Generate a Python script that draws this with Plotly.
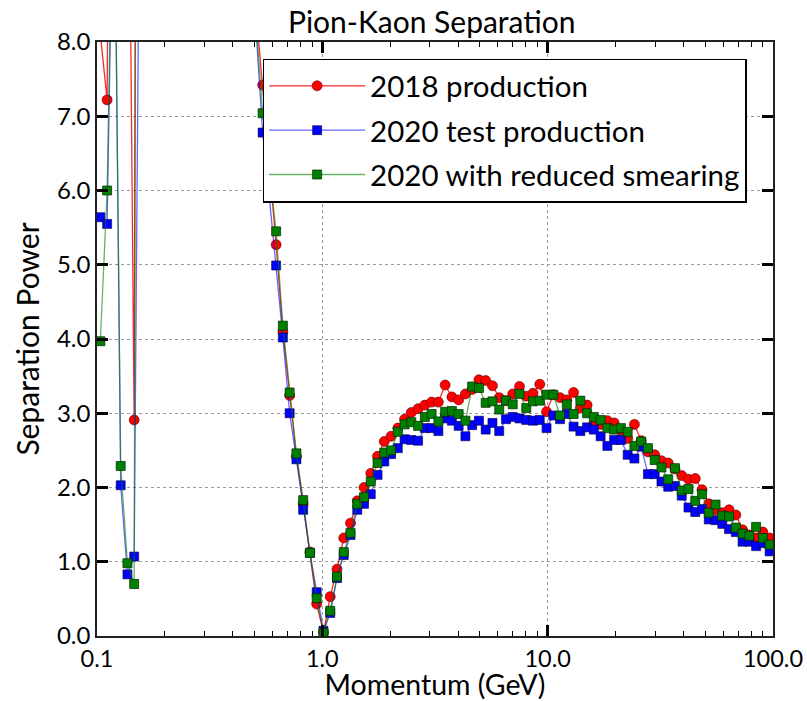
import plotly.graph_objects as go

# Momentum bin centres (GeV), 0.03-decade log bins from 0.1 to 100
momentum = [
    0.1035, 0.1109, 0.1189, 0.1274, 0.1365, 0.1462, 0.1567, 0.1679, 0.1799, 0.1928,
    0.2065, 0.2213, 0.2371, 0.2541, 0.2723, 0.2917, 0.3126, 0.3350, 0.3589, 0.3846,
    0.4121, 0.4416, 0.4732, 0.5070, 0.5433, 0.5821, 0.6237, 0.6683, 0.7161, 0.7674,
    0.8222, 0.8810, 0.9441, 1.0116, 1.0839, 1.1614, 1.2445, 1.3335, 1.4289, 1.5311,
    1.6406, 1.7579, 1.8836, 2.0184, 2.1627, 2.3174, 2.4831, 2.6607, 2.8510, 3.0549,
    3.2734, 3.5075, 3.7584, 4.0272, 4.3152, 4.6238, 4.9545, 5.3088, 5.6885, 6.0954,
    6.5313, 6.9984, 7.4989, 8.0353, 8.6099, 9.2257, 9.8855, 10.593, 11.350, 12.162,
    13.032, 13.964, 14.962, 16.032, 17.179, 18.408, 19.724, 21.135, 22.646, 24.266,
    26.002, 27.861, 29.854, 31.989, 34.277, 36.728, 39.355, 42.170, 45.186, 48.417,
    51.880, 55.590, 59.566, 63.826, 68.391, 73.282, 78.524, 84.140, 90.157, 96.605,
]

sep_2018 = [
    8.10, 7.22, 20.0, 30.0, 13.1, 2.91, 40.0, 30.0, 30.0, 30.0,
    30.0, 30.0, 30.0, 30.0, 30.0, 30.0, 30.0, 30.0, 30.0, 30.0,
    30.0, 30.0, 30.0, 8.45, 7.42, 6.35, 5.27, 4.10, 3.24, 2.42,
    1.78, 1.13, 0.43, 0.05, 0.53, 0.90, 1.32, 1.52, 1.82, 2.00,
    2.19, 2.42, 2.62, 2.69, 2.80, 2.92, 3.01, 3.06, 3.11, 3.15,
    3.15, 3.38, 3.22, 3.18, 3.26, 3.32, 3.45, 3.44, 3.37, 3.21,
    3.17, 3.26, 3.36, 3.23, 3.27, 3.39, 3.02, 3.25, 3.21, 3.18,
    3.28, 3.07, 3.11, 2.86, 2.85, 2.90, 2.87, 2.77, 2.66, 2.85,
    2.63, 2.48, 2.44, 2.36, 2.33, 2.25, 2.16, 2.11, 2.12, 1.97,
    1.78, 1.70, 1.66, 1.70, 1.63, 1.43, 1.36, 1.32, 1.40, 1.32,
]

sep_2020_test = [
    5.64, 5.55, 11.0, 2.03, 0.83, 1.07, 12.6, 30.0, 30.0, 30.0,
    30.0, 30.0, 30.0, 30.0, 30.0, 30.0, 30.0, 30.0, 30.0, 30.0,
    30.0, 30.0, 30.0, 8.20, 6.78, 5.90, 4.99, 4.02, 3.00, 2.38,
    1.70, 1.12, 0.59, 0.07, 0.31, 0.78, 1.09, 1.36, 1.70, 1.78,
    1.91, 2.17, 2.35, 2.45, 2.53, 2.65, 2.64, 2.63, 2.80, 2.80,
    2.76, 2.93, 2.90, 2.83, 2.69, 2.84, 2.90, 2.78, 2.87, 2.76,
    2.92, 2.95, 2.93, 2.91, 2.90, 2.91, 2.80, 2.97, 2.92, 2.99,
    2.82, 2.76, 2.81, 2.78, 2.69, 2.56, 2.64, 2.64, 2.44, 2.39,
    2.55, 2.18, 2.18, 2.08, 2.01, 2.02, 1.89, 1.73, 1.67, 1.71,
    1.57, 1.56, 1.51, 1.44, 1.40, 1.27, 1.27, 1.21, 1.25, 1.14,
]

sep_2020_reduced = [
    3.97, 6.00, 11.0, 2.29, 0.98, 0.70, 40.0, 30.0, 30.0, 30.0,
    30.0, 30.0, 30.0, 30.0, 30.0, 30.0, 30.0, 30.0, 30.0, 30.0,
    30.0, 30.0, 30.0, 8.30, 7.04, 6.25, 5.45, 4.18, 3.28, 2.46,
    1.83, 1.12, 0.51, 0.04, 0.34, 0.80, 1.13, 1.39, 1.78, 1.87,
    2.08, 2.33, 2.47, 2.50, 2.75, 2.85, 2.88, 2.83, 2.95, 2.99,
    2.89, 3.02, 3.03, 2.99, 2.90, 3.36, 3.34, 3.14, 3.16, 3.05,
    3.17, 3.12, 3.26, 3.07, 3.16, 3.17, 3.25, 3.25, 2.97, 3.12,
    2.99, 3.17, 3.00, 2.95, 2.91, 2.80, 2.78, 2.80, 2.75, 2.56,
    2.62, 2.53, 2.37, 2.27, 2.11, 2.26, 1.96, 1.98, 1.82, 1.91,
    1.66, 1.77, 1.62, 1.61, 1.46, 1.38, 1.35, 1.47, 1.32, 1.23,
]

series_names = ["2018 production", "2020 test production", "2020 with reduced smearing"]

x_tickvals = [0.1, 1, 10, 100]
x_ticktext = ["0.1", "1.0", "10.0", "100.0"]
x_minor = [m * d for d in (0.1, 1, 10) for m in range(2, 10)]
y_tickvals = [0, 1, 2, 3, 4, 5, 6, 7, 8]
y_ticktext = ["0.0", "1.0", "2.0", "3.0", "4.0", "5.0", "6.0", "7.0", "8.0"]

FONT = "Lato, 'Open Sans', sans-serif"

styles = [
    dict(line=dict(color="rgba(255,0,0,0.85)", width=1.3),
         marker=dict(symbol="circle", size=10, color="#ff0000",
                     line=dict(color="rgba(90,0,0,0.6)", width=1))),
    dict(line=dict(color="rgba(0,0,255,0.6)", width=1.3),
         marker=dict(symbol="square", size=9, color="#0000ff",
                     line=dict(color="rgba(0,0,60,0.6)", width=1))),
    dict(line=dict(color="rgba(0,128,0,0.6)", width=1.3),
         marker=dict(symbol="square", size=9, color="#008000",
                     line=dict(color="rgba(0,40,0,0.7)", width=1))),
]

fig = go.Figure()
for name, ys, st, grp in zip(series_names, [sep_2018, sep_2020_test, sep_2020_reduced], styles, ["a", "b", "c"]):
    fig.add_trace(go.Scatter(x=momentum, y=ys, mode="lines+markers", name=name,
                             legendgroup=grp, cliponaxis=True, **st))

fig.update_layout(
    width=807, height=701,
    margin=dict(l=97, r=34, t=42, b=65, autoexpand=False),
    paper_bgcolor="white", plot_bgcolor="white",
    font=dict(family=FONT, color="black", size=24),
    title=dict(text="Pion-Kaon Separation", x=0.535, xanchor="center", y=0.968, yanchor="middle",
               font=dict(size=30, family=FONT, color="black")),
    showlegend=True,
    legend=dict(x=0.245, y=0.972, xanchor="left", yanchor="top",
                bgcolor="white", bordercolor="black", borderwidth=1.5,
                font=dict(size=29.5, family=FONT, color="black"),
                traceorder="grouped", tracegroupgap=3, itemwidth=96),
)

fig.update_xaxes(
    type="log", range=[-1, 2], automargin=False,
    tickmode="array", tickvals=x_tickvals, ticktext=x_ticktext,
    ticks="inside", ticklen=11, tickwidth=3, tickcolor="black",
    showline=True, linecolor="#222", linewidth=1.5, mirror="allticks",
    showgrid=True, gridcolor="#999", griddash="dot", gridwidth=1,
    zeroline=False, ticklabelstandoff=1,
    tickfont=dict(size=23.5, family=FONT),
    minor=dict(tickmode="array", tickvals=x_minor, ticks="inside", ticklen=5,
               tickwidth=1, tickcolor="black", showgrid=False),
    title=dict(text="Momentum (GeV)", font=dict(size=28.5, family=FONT), standoff=7),
)
fig.update_yaxes(
    range=[0, 8], automargin=False,
    tickmode="array", tickvals=y_tickvals, ticktext=y_ticktext,
    ticks="inside", ticklen=11, tickwidth=3, tickcolor="black",
    showline=True, linecolor="#222", linewidth=1.5, mirror="allticks",
    showgrid=True, gridcolor="#999", griddash="dot", gridwidth=1,
    zeroline=False,
    tickfont=dict(size=24, family=FONT),
    title=dict(text="Separation Power", font=dict(size=30, family=FONT), standoff=8),
)

fig.write_html("out.html")
